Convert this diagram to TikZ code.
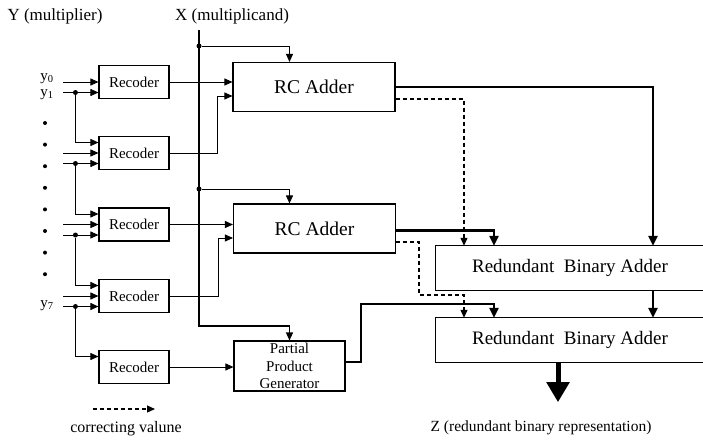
\documentclass[tikz,border=0pt]{standalone}
\usepackage{fontspec}
\setmainfont{Liberation Serif}
\usetikzlibrary{arrows.meta, positioning}

\tikzset{
  box/.style={draw, line width=1.1pt, inner sep=0pt},
  rec/.style={box, minimum width=70pt, minimum height=33pt, font=\fontsize{15}{17}\selectfont},
  rca/.style={box, minimum width=162pt, minimum height=49pt, font=\fontsize{19.5}{22}\selectfont},
  rba/.style={inner sep=0pt, minimum width=268pt, minimum height=44pt, font=\fontsize{19}{22}\selectfont},
  lbl/.style={inner sep=0pt, font=\fontsize{17}{20}\selectfont},
  ybit/.style={inner sep=0pt, font=\fontsize{15}{17}\selectfont},
  sig/.style={line width=0.9pt, -{Triangle[length=8pt,width=7pt]}},
  fat/.style={line width=2.4pt, -{Triangle[length=10pt,width=9pt]}},
  corr/.style={line width=1.2pt, dash pattern=on 4pt off 3pt, -{Triangle[length=8pt,width=7pt]}},
  dot/.style={circle, fill, inner sep=0pt, minimum size=5pt},
}

\begin{document}
\begin{tikzpicture}[x=1pt, y=-1pt]
\useasboundingbox (0,0) rectangle (703,440);

% blocks
\foreach \i/\yy in {1/82,2/153,3/224.5,4/296,5/367}
  \node[rec] (rec\i) at (134,\yy) {Recoder};
\node[rca] (rca1) at (314,87) {RC Adder};
\node[rca] (rca2) at (314.5,228.5) {RC Adder};
\node[box, minimum width=111pt, minimum height=50pt, align=center,
  font=\fontsize{15}{17.5}\selectfont] (ppg) at (289.5,366) {Partial\\Product\\Generator};
\node[rba] (rba1) at (570,268) {Redundant\ \ Binary Adder};
\node[rba] (rba2) at (570,340) {Redundant\ \ Binary Adder};
\foreach \b in {rba1,rba2}
  \draw[line width=1.1pt] (\b.north east) -- (\b.north west) -- (\b.south west) -- (\b.south east);

% labels
\node[lbl] (ylbl) at (55,16) {Y (multiplier)};
\node[lbl] (xlbl) at (232,16) {X (multiplicand)};
\node[ybit] (y0) at (47,79) {y\textsubscript{0}};
\node[ybit] (y1) at (47,95) {y\textsubscript{1}};
\node[ybit] (y7) at (47,306) {y\textsubscript{7}};
\foreach \k in {0,...,7}
  \fill (45,{123+21.6*\k}) circle (2pt);

% multiplier bits into the recoders
\foreach \i in {1,...,4} {
  \path (rec\i.west) ++(-35,0) coordinate (mid\i) ++(0,10.5) coordinate (bot\i) ++(12,0) coordinate (jc\i);
  \draw[sig] (mid\i) -- (mid\i -| rec\i.west);
  \draw[sig] (bot\i) -- (bot\i -| rec\i.west);
  \node[dot] (j\i) at (jc\i) {};
  \pgfmathtruncatemacro\nx{\i+1}
  \draw[sig] (j\i) |- ([yshift=10.5pt]rec\nx.west);
}

% recoders to adders
\draw[sig] (rec1.east) -- (rec1.east -| rca1.west);
\draw[sig] (rec2.east) -- ++(48,0) |- ([yshift=-9pt]rca1.west);
\draw[sig] (rec3.east) -- (rec3.east -| rca2.west);
\draw[sig] (rec4.east) -- ++(49,0) |- ([yshift=-9.5pt]rca2.west);
\draw[sig] (rec5.east) -- (rec5.east -| ppg.west);

% multiplicand bus
\coordinate (xtop) at (199,30);
\node[dot] (xd1) at (199,46) {};
\node[dot] (xd2) at (199,189) {};
\draw[sig, line width=1.1pt] (xtop) -- ++(0,296) -| (ppg.north);
\draw[sig] (xd1) -| (rca1.north -| ppg.north);
\draw[sig] (xd2) -| (rca2.north -| ppg.north);

% adder outputs
\coordinate (tA) at (464,0);
\coordinate (tB) at (494,0);
\coordinate (tC) at (653,0);
\coordinate (tD) at (558,0);
\coordinate (cbend) at (419,295);
\coordinate (pbend) at (361,304);
\draw[fat] (rca1.east) -| (tC |- rba1.north);
\draw[corr] ([yshift=-12pt]rca1.east) -| (tA |- rba1.north);
\draw[fat] ([yshift=-2pt]rca2.east) -| (tB |- rba1.north);
\draw[corr] ([yshift=-13.5pt]rca2.east) -| (cbend) -| (tA |- rba2.north);
\draw[fat] ([yshift=4pt]ppg.east) -| (pbend) -| (tB |- rba2.north);
\draw[fat] (rba1.south -| tC) -- (rba2.north -| tC);
\draw[line width=5pt, -{Triangle[length=20pt,width=22pt]}] (rba2.south -| tD) -- ++(0,40) coordinate (zout);
\node[lbl, font=\fontsize{15.5}{18}\selectfont] (zlbl) at (541,428) {Z (redundant binary representation)};

% legend
\coordinate (lg) at (93,409);
\draw[corr] (lg) -- ++(62,0);
\node[lbl, font=\fontsize{16}{18}\selectfont] (lglbl) at (126,429) {correcting valune};
\end{tikzpicture}
\end{document}
